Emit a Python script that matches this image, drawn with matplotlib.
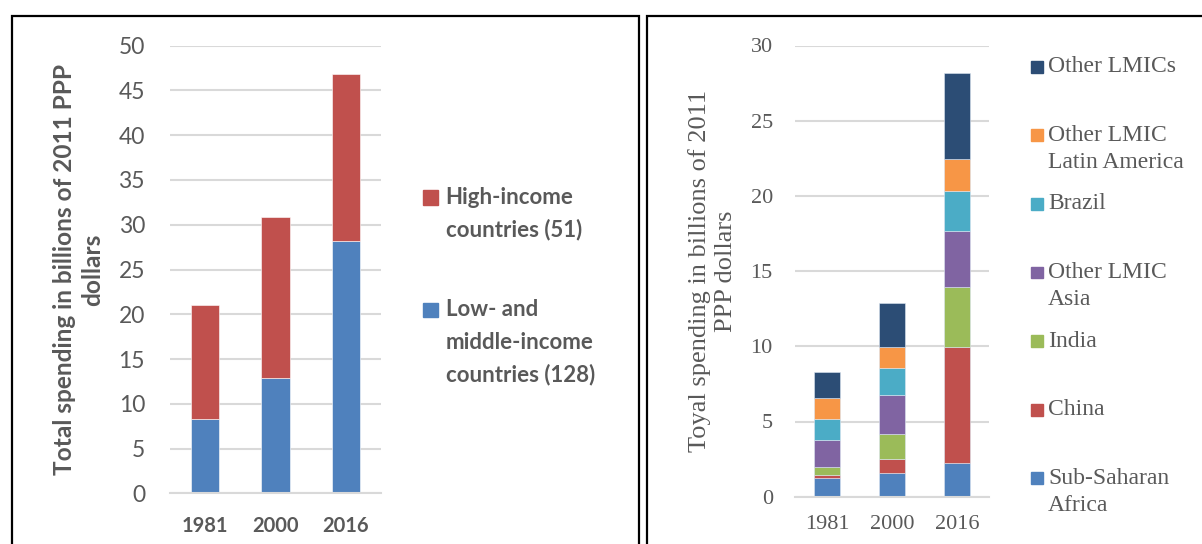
import numpy as np
import matplotlib
matplotlib.use("Agg")
import matplotlib.pyplot as plt
from matplotlib.patches import Rectangle

# data
years = ["1981", "2000", "2016"]

lmic_total = [8.3, 12.9, 28.2]
high_income = [12.75, 17.95, 18.6]

left_labels = ["High-income\ncountries (51)", "Low- and\nmiddle-income\ncountries (128)"]

ssa = [1.26, 1.55, 2.24]
china = [0.16, 0.98, 7.71]
india = [0.53, 1.62, 4.01]
lmic_asia = [1.80, 2.59, 3.71]
brazil = [1.40, 1.80, 2.68]
lmic_latam = [1.39, 1.41, 2.12]
other_lmics = [1.73, 2.91, 5.72]

right_labels = ["Sub-Saharan\nAfrica", "China", "India", "Other LMIC\nAsia",
                "Brazil", "Other LMIC\nLatin America", "Other LMICs"]

BLUE = "#4f81bd"
RED = "#c0504d"
right_colors = [BLUE, RED, "#9bbb59", "#8064a2", "#4bacc6", "#f79646", "#2c4d75"]
GREY = "#595959"
GRID = "#d9d9d9"

W, H = 1202, 544
fig = plt.figure(figsize=(W / 100, H / 100), dpi=100)


def fx(px):
	return px / W


def fy(py):
	return 1 - py / H


# panel frames
fig.patches.append(Rectangle((fx(12), fy(600)), fx(638.7) - fx(12), fy(16) - fy(600),
	transform=fig.transFigure, fill=False, edgecolor="black", linewidth=1.6))
fig.patches.append(Rectangle((fx(647.3), fy(600)), fx(1250) - fx(647.3), fy(16) - fy(600),
	transform=fig.transFigure, fill=False, edgecolor="black", linewidth=1.6))


def style_axis(ax, ymax, step):
	ax.set_xlim(-0.5, 2.5)
	ax.set_ylim(0, ymax)
	ax.set_yticks(np.arange(0, ymax + 0.1, step))
	ax.yaxis.grid(True, color=GRID, linewidth=1.5)
	ax.set_axisbelow(True)
	for s in ["top", "right", "left"]:
		ax.spines[s].set_visible(False)
	ax.spines["bottom"].set_color(GRID)
	ax.spines["bottom"].set_linewidth(1.5)
	ax.tick_params(length=0, colors=GREY)


# ---- left chart
ax1 = fig.add_axes([fx(170), fy(493.3), fx(381) - fx(170), fy(45.7) - fy(493.3)])
x = np.arange(len(years))
ax1.bar(x, lmic_total, 0.4, color=BLUE, edgecolor="white", linewidth=0.4)
ax1.bar(x, high_income, 0.4, bottom=lmic_total, color=RED, edgecolor="white", linewidth=0.4)
style_axis(ax1, 50, 5)
ax1.set_xticks(x)
ax1.set_xticklabels(years, fontfamily="Lato", fontweight="bold", fontsize=14.5)
for t in ax1.get_yticklabels():
	t.set_fontfamily("Lato")
	t.set_fontsize(16.5)
ax1.tick_params(axis="y", pad=18)
ax1.tick_params(axis="x", pad=16)
ax1.set_ylabel("Total spending in billions of 2011 PPP\ndollars", fontfamily="Lato",
	fontweight="bold", fontsize=17.6, color=GREY, labelpad=10, linespacing=1.3)

for i, (lab, col) in enumerate(zip(left_labels, [RED, BLUE])):
	yc = 197.5 + i * 112.5
	fig.patches.append(Rectangle((fx(423), fy(yc + 7.3)), fx(14.7), 14.7 / H,
		transform=fig.transFigure, color=col))
	for j, line in enumerate(lab.split("\n")):
		fig.text(fx(445.7), fy(yc + j * 32.5), line, fontfamily="Lato", fontweight="bold",
			fontsize=16, color=GREY, va="center", ha="left")

# ---- right chart
ax2 = fig.add_axes([fx(795), fy(496.7), fx(989.3) - fx(795), fy(45.5) - fy(496.7)])
series = [ssa, china, india, lmic_asia, brazil, lmic_latam, other_lmics]
bottom = np.zeros(len(years))
for vals, col in zip(series, right_colors):
	ax2.bar(x, vals, 0.4, bottom=bottom, color=col, edgecolor="#dce6f2", linewidth=0.4)
	bottom += np.array(vals)
style_axis(ax2, 30, 5)
ax2.set_xticks(x)
ax2.set_xticklabels(years, fontfamily="Liberation Serif", fontsize=16)
for t in ax2.get_yticklabels():
	t.set_fontfamily("Liberation Serif")
	t.set_fontsize(16)
ax2.tick_params(axis="y", pad=16)
ax2.tick_params(axis="x", pad=13)
ax2.set_ylabel("Toyal spending in billions of 2011\nPPP dollars", fontfamily="Liberation Serif",
	fontsize=19, color=GREY, labelpad=10, linespacing=1.2)

for i, (lab, col) in enumerate(zip(right_labels[::-1], right_colors[::-1])):
	yc = 66.7 + i * 68.6
	fig.patches.append(Rectangle((fx(1031), fy(yc + 5.8)), fx(11.7), 11.7 / H,
		transform=fig.transFigure, color=col))
	for j, line in enumerate(lab.split("\n")):
		fig.text(fx(1048), fy(yc + j * 27), line, fontfamily="Liberation Serif",
			fontsize=17, color=GREY, va="center", ha="left")

fig.savefig("out.png", dpi=100)
